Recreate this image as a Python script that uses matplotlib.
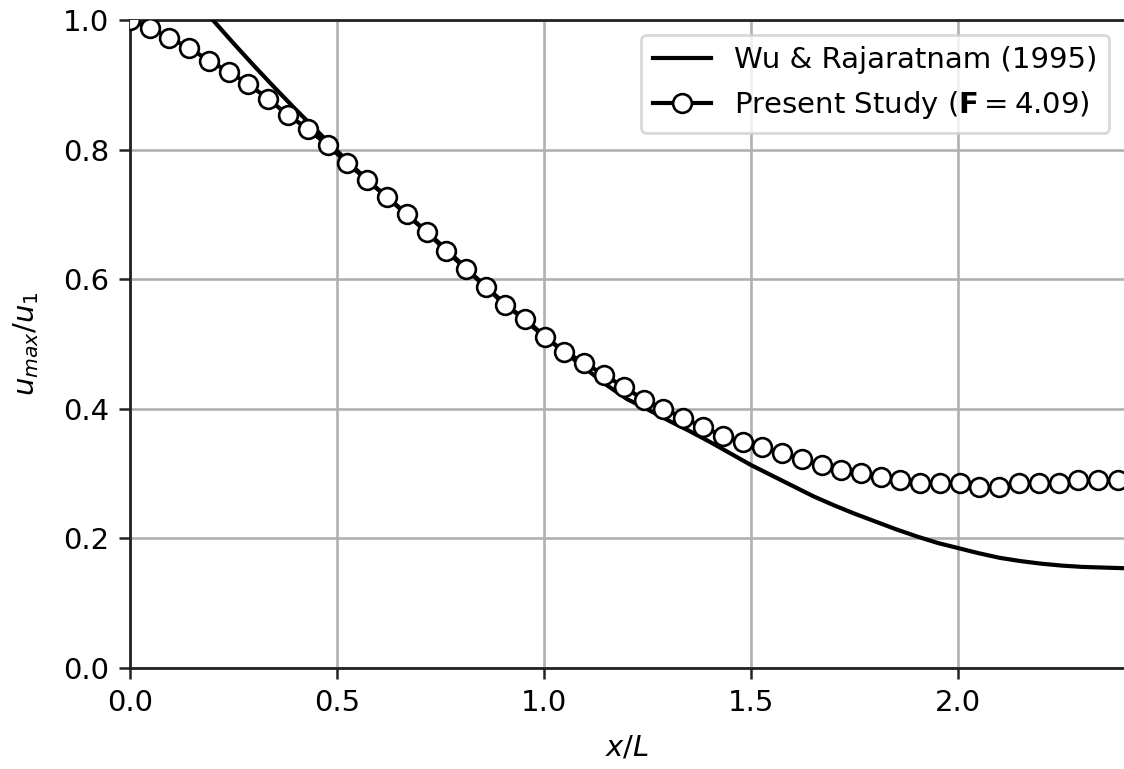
import numpy as np
import matplotlib
matplotlib.use("Agg")
import matplotlib.pyplot as plt

# Wu & Rajaratnam (1995) curve
wu_x = [0.19, 0.20, 0.25, 0.30, 0.35, 0.40, 0.45, 0.50, 0.55, 0.60, 0.65, 0.70,
        0.75, 0.80, 0.85, 0.90, 0.95, 1.00, 1.05, 1.10, 1.15, 1.20, 1.25, 1.30,
        1.35, 1.40, 1.45, 1.50, 1.55, 1.60, 1.65, 1.70, 1.75, 1.80, 1.85, 1.90,
        1.95, 2.00, 2.05, 2.10, 2.15, 2.20, 2.25, 2.30, 2.35, 2.40]
wu_y = [1.008, 1.000, 0.964, 0.929, 0.895, 0.862, 0.830, 0.798, 0.767, 0.738,
        0.710, 0.682, 0.654, 0.624, 0.594, 0.565, 0.538, 0.512, 0.487, 0.462,
        0.437, 0.415, 0.399, 0.382, 0.366, 0.349, 0.331, 0.313, 0.297, 0.281,
        0.265, 0.251, 0.238, 0.226, 0.214, 0.203, 0.193, 0.185, 0.177, 0.170,
        0.165, 0.161, 0.158, 0.156, 0.155, 0.154]

# present study (F = 4.09)
ps_x = [0.000, 0.048, 0.095, 0.143, 0.191, 0.239, 0.286, 0.334, 0.382, 0.429,
        0.477, 0.525, 0.572, 0.620, 0.668, 0.716, 0.763, 0.811, 0.859, 0.906,
        0.954, 1.002, 1.049, 1.097, 1.145, 1.193, 1.240, 1.288, 1.336, 1.383,
        1.431, 1.479, 1.526, 1.574, 1.622, 1.670, 1.717, 1.765, 1.813, 1.860,
        1.908, 1.956, 2.003, 2.051, 2.099, 2.147, 2.194, 2.242, 2.290, 2.337,
        2.385]
ps_y = [1.000, 0.988, 0.972, 0.957, 0.937, 0.920, 0.901, 0.878, 0.853, 0.832,
        0.807, 0.779, 0.753, 0.727, 0.701, 0.673, 0.644, 0.616, 0.588, 0.560,
        0.539, 0.511, 0.488, 0.471, 0.452, 0.434, 0.414, 0.400, 0.386, 0.372,
        0.358, 0.349, 0.341, 0.332, 0.322, 0.313, 0.305, 0.301, 0.295, 0.290,
        0.285, 0.285, 0.285, 0.279, 0.279, 0.285, 0.285, 0.285, 0.290, 0.290,
        0.290]

xticks = [0.0, 0.5, 1.0, 1.5, 2.0]
yticks = [0.0, 0.2, 0.4, 0.6, 0.8, 1.0]

fs = 21
plt.rcParams['font.family'] = ['DejaVu Sans']
plt.rcParams['mathtext.fontset'] = 'dejavusans'

fig = plt.figure(figsize=(11.24, 7.69), dpi=100)
ax = fig.add_axes([130 / 1124, 101 / 769, 1 - 130 / 1124, 648 / 769])

ax.plot(wu_x, wu_y, color='k', lw=3.0, label='Wu & Rajaratnam (1995)', zorder=3)
ax.plot(ps_x, ps_y, color='k', lw=3.0, marker='o', markersize=13.5,
        markerfacecolor='w', markeredgecolor='k', markeredgewidth=1.9,
        label=r'Present Study ($\mathbf{F} = 4.09$)', zorder=4)

ax.set_xlim(0, 2.4)
ax.set_ylim(0, 1.0)
ax.set_xticks(xticks)
ax.set_yticks(yticks)
ax.tick_params(labelsize=fs, width=1.8, length=8, pad=7, color='#222222')
ax.grid(True, color='#b0b0b0', lw=1.9)
ax.set_axisbelow(True)
for s in ['left', 'bottom', 'top']:
    ax.spines[s].set_linewidth(2.0)
    ax.spines[s].set_color('#222222')
ax.spines['right'].set_visible(False)

ax.set_xlabel(r'$x/L$', fontsize=fs, labelpad=12)
ax.set_ylabel(r'$u_{max}/u_1$', fontsize=fs, labelpad=16)

leg = ax.legend(loc='upper right', fontsize=fs, framealpha=0.8,
                borderaxespad=0.5, handlelength=2.0)
leg.get_frame().set_linewidth(2.0)
leg.get_frame().set_edgecolor('#d0d0d0')

fig.savefig('out.png', dpi=100)
